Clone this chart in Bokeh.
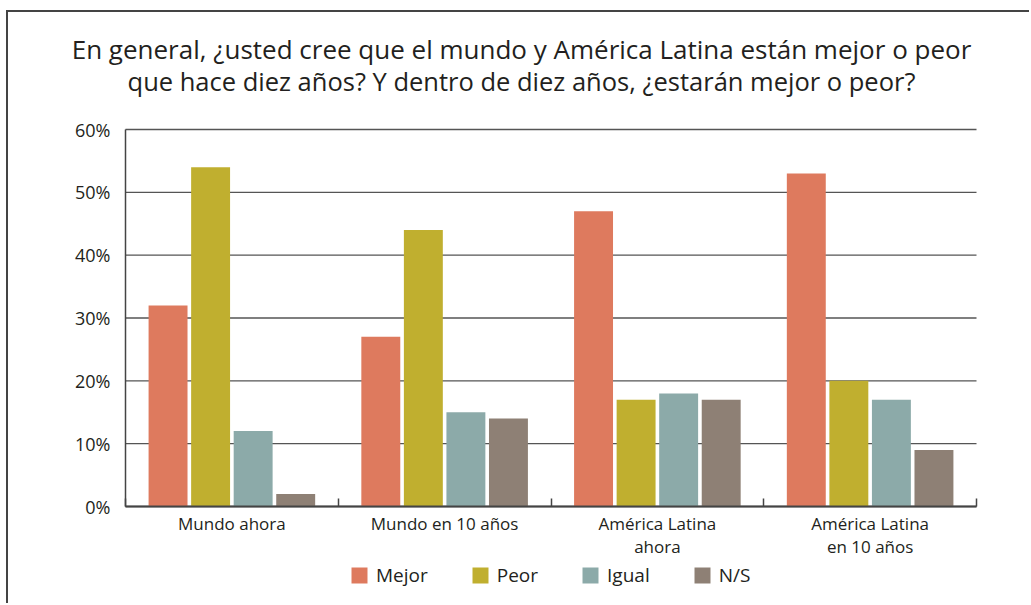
from bokeh.plotting import figure
from bokeh.models import Range1d, FixedTicker, Legend, LegendItem, Label
from bokeh.embed import file_html
from bokeh.resources import INLINE

# ---- data ----
categories = ["Mundo ahora", "Mundo en 10 años", "América Latina\nahora", "América Latina\nen 10 años"]
series = ["Mejor", "Peor", "Igual", "N/S"]
mejor = [32, 27, 47, 53]
peor = [54, 44, 17, 20]
igual = [12, 15, 18, 17]
ns = [2, 14, 17, 9]
colors = ["#DE7A5E", "#C0AF2F", "#8CAAA9", "#8E8075"]
y_ticks = [0, 10, 20, 30, 40, 50, 60]
y_tick_labels = ["0%", "10%", "20%", "30%", "40%", "50%", "60%"]
title_lines = ["En general, ¿usted cree que el mundo y América Latina están mejor o peor",
               "que hace diez años? Y dentro de diez años, ¿estarán mejor o peor?"]

FONT = "Open Sans"
TXT = "#231f20"
GRID = "#555555"
AXIS = "#444444"

# ---- layout (pixels, canvas coordinates) ----
W, H = 1023, 593
PX_X0, PX_X1 = 117, 968          # canvas x of the plot area's left / right edge
PX_TOP_GRID, PX_ZERO = 117, 494   # canvas y of the 60% line and of 0
YMAX = 60
k = (PX_ZERO - PX_TOP_GRID) / YMAX
ncat = len(categories)
g = (PX_X1 - PX_X0) / ncat
x_start, x_end = -PX_X0 / g, ncat + (W - PX_X1) / g
y_start, y_end = -(H - PX_ZERO) / k, YMAX + PX_TOP_GRID / k

p = figure(width=W, height=H, output_backend="svg", toolbar_location=None,
           x_range=Range1d(x_start, x_end), y_range=Range1d(y_start, y_end),
           min_border_left=0, min_border_right=0, min_border_top=0, min_border_bottom=0)
p.styles = {"border-left": "2px solid #444444", "border-top": "2px solid #444444",
            "margin-left": "6px", "margin-top": "10px"}
p.outline_line_color = None
p.background_fill_color = "white"
p.border_fill_color = "white"
p.xgrid.visible = False
p.ygrid.visible = False

# horizontal grid lines at the y ticks, limited to the plot area
p.segment(x0=[0] * len(y_ticks), x1=[ncat] * len(y_ticks), y0=y_ticks, y1=y_ticks,
          line_color=GRID, line_width=1.4)

values = [mejor, peor, igual, ns]
offsets = [-0.3, -0.1, 0.1, 0.3]
renderers = []
for vals, col, off in zip(values, colors, offsets):
    xs = [i + 0.5 + off for i in range(ncat)]
    r = p.vbar(x=xs, top=vals, bottom=0, width=0.183, fill_color=col, line_color=None)
    renderers.append(r)

# y axis fixed at x = 0
yax = p.yaxis[0]
yax.fixed_location = 0
yax.bounds = (0, YMAX)
yax.ticker = FixedTicker(ticks=y_ticks, minor_ticks=[])
yax.major_label_overrides = {t: l for t, l in zip(y_ticks, y_tick_labels)}
yax.major_tick_line_color = None
yax.major_tick_in = 0
yax.major_tick_out = 0
yax.minor_tick_line_color = None
yax.axis_line_color = AXIS
yax.axis_line_width = 1.5
yax.major_label_text_font = FONT
yax.major_label_text_font_size = "18px"
yax.major_label_text_color = TXT
yax.major_label_standoff = 15

# x axis fixed at y = 0
xax = p.xaxis[0]
xax.fixed_location = 0
xax.bounds = (0, ncat)
centers = [i + 0.5 for i in range(ncat)]
xax.ticker = FixedTicker(ticks=centers, minor_ticks=list(range(ncat + 1)))
xax.major_label_overrides = {c: l for c, l in zip(centers, categories)}
xax.major_tick_line_color = None
xax.major_tick_in = 0
xax.major_tick_out = 0
xax.minor_tick_line_color = AXIS
xax.minor_tick_line_width = 1.5
xax.minor_tick_in = 8
xax.minor_tick_out = 0
xax.axis_line_color = AXIS
xax.axis_line_width = 2
xax.major_label_text_font = FONT
xax.major_label_text_font_size = "17px"
xax.major_label_text_color = TXT
xax.major_label_text_line_height = 1.0
xax.major_label_standoff = 5

# legend below the axis labels
legend = Legend(items=[LegendItem(label=s, renderers=[r]) for s, r in zip(series, renderers)],
                orientation="horizontal", location=(341, 17),
                glyph_width=20, glyph_height=20, label_standoff=7, spacing=42,
                padding=0, margin=0, border_line_color=None, background_fill_alpha=0,
                label_text_font=FONT, label_text_font_size="19px", label_text_color=TXT)
p.add_layout(legend)

# two-line title, centred
title_cx = (521 - 8 - PX_X0) / g
for line, baseline_px, fs in zip(title_lines, [36, 68], ["26px", "25.5px"]):
    p.add_layout(Label(x=title_cx, y=(PX_ZERO - baseline_px) / k, text=line,
                       text_align="center", text_baseline="alphabetic",
                       text_font=FONT, text_font_size=fs, text_color=TXT))

open("out.html", "w").write(file_html(p, INLINE))
